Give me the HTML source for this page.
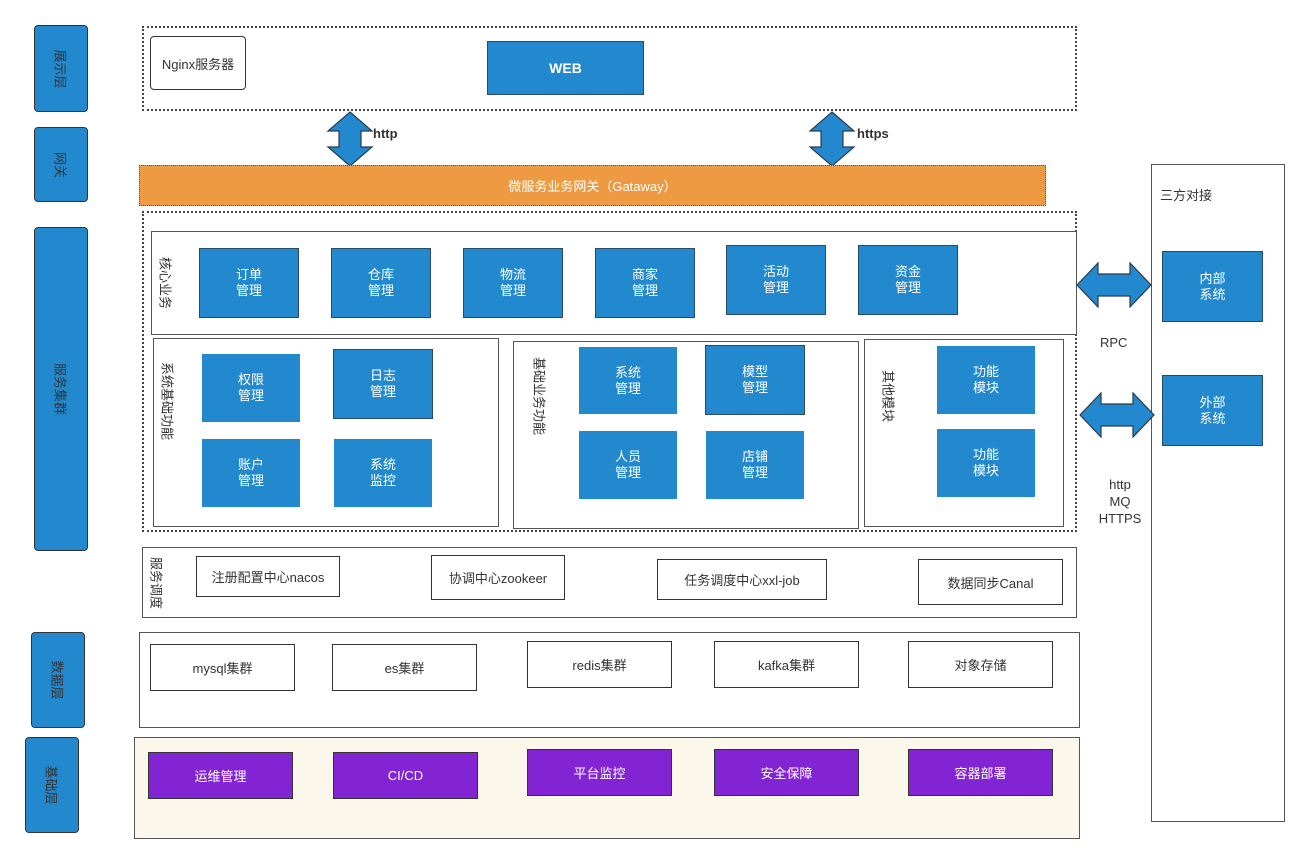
<!DOCTYPE html>
<html><head><meta charset="utf-8"><style>
body{margin:0;width:1309px;height:863px;background:#fff;position:relative;font-family:"Liberation Sans","Noto Sans CJK SC",sans-serif;overflow:hidden}
.a{position:absolute;box-sizing:border-box}
.lab{background:#2389ce;border:1.5px solid #333;border-radius:4px}
.vt{position:absolute;left:50%;top:50%;transform:translate(-50%,-50%) rotate(90deg);white-space:nowrap;font-size:13px;color:#333}
.b{background:#2389ce;border:1px solid #2b4a66;color:#fff;font-size:13px;display:flex;align-items:center;justify-content:center;text-align:center;line-height:16px}
.w{background:#fff;border:1.5px solid #333;color:#333;font-size:13px;display:flex;align-items:center;justify-content:center}
.p{background:#8224d3;border:1.5px solid #333;color:#fff;font-size:13px;display:flex;align-items:center;justify-content:center}
.frame{border:1.5px solid #555;background:#fff}
.dash{border:2px dotted #444}
</style></head><body>
<div class="a lab" style="left:34px;top:25px;width:54px;height:87px"><span class="vt">展示层</span></div>
<div class="a lab" style="left:34px;top:127px;width:54px;height:75px"><span class="vt">网关</span></div>
<div class="a lab" style="left:34px;top:227px;width:54px;height:324px"><span class="vt">服务集群</span></div>
<div class="a lab" style="left:31px;top:632px;width:54px;height:96px"><span class="vt">数据层</span></div>
<div class="a lab" style="left:25px;top:737px;width:54px;height:96px"><span class="vt">基础层</span></div>

<div class="a dash" style="left:142px;top:26px;width:935px;height:85px"></div>
<div class="a w" style="left:150px;top:36px;width:96px;height:54px;border-radius:4px">Nginx服务器</div>
<div class="a b" style="left:487px;top:41px;width:157px;height:54px;font-weight:bold;font-size:14px">WEB</div>

<svg class="a" style="left:326px;top:111px" width="48" height="56"><polygon points="24,1 46,20 35,20 35,36 46,36 24,55 2,36 13,36 13,20 2,20" fill="#2389ce" stroke="#2b3a4a" stroke-width="1.2"/></svg>
<div class="a" style="left:373px;top:126px;font-size:13px;font-weight:bold;color:#333">http</div>
<svg class="a" style="left:808px;top:111px" width="48" height="56"><polygon points="24,1 46,20 35,20 35,36 46,36 24,55 2,36 13,36 13,20 2,20" fill="#2389ce" stroke="#2b3a4a" stroke-width="1.2"/></svg>
<div class="a" style="left:857px;top:126px;font-size:13px;font-weight:bold;color:#333">https</div>

<div class="a" style="left:139px;top:165px;width:907px;height:41px;background:#ed9a43;border:1.5px dotted #555;color:#fff;font-size:13px;display:flex;align-items:center;justify-content:center">微服务业务网关（Gataway）</div>

<div class="a dash" style="left:142px;top:211px;width:935px;height:321px"></div>
<div class="a frame" style="left:151px;top:231px;width:926px;height:104px"><span class="vt" style="left:14px">核心业务</span></div>
<div class="a b" style="left:199px;top:248px;width:100px;height:70px">订单<br>管理</div>
<div class="a b" style="left:331px;top:248px;width:100px;height:70px">仓库<br>管理</div>
<div class="a b" style="left:463px;top:248px;width:100px;height:70px">物流<br>管理</div>
<div class="a b" style="left:595px;top:248px;width:100px;height:70px">商家<br>管理</div>
<div class="a b" style="left:726px;top:245px;width:100px;height:70px">活动<br>管理</div>
<div class="a b" style="left:858px;top:245px;width:100px;height:70px">资金<br>管理</div>

<div class="a frame" style="left:153px;top:338px;width:346px;height:189px"><span class="vt" style="left:14px;top:33%">系统基础功能</span></div>
<div class="a b" style="left:201px;top:353px;width:100px;height:70px;border-color:#fff">权限<br>管理</div>
<div class="a b" style="left:333px;top:349px;width:100px;height:70px">日志<br>管理</div>
<div class="a b" style="left:201px;top:438px;width:100px;height:70px;border-color:#fff">账户<br>管理</div>
<div class="a b" style="left:333px;top:438px;width:100px;height:70px;border-color:#fff">系统<br>监控</div>

<div class="a frame" style="left:513px;top:341px;width:346px;height:188px"><span class="vt" style="left:26px;top:29%">基础业务功能</span></div>
<div class="a b" style="left:578px;top:346px;width:100px;height:69px;border-color:#fff">系统<br>管理</div>
<div class="a b" style="left:705px;top:345px;width:100px;height:70px">模型<br>管理</div>
<div class="a b" style="left:578px;top:430px;width:100px;height:70px;border-color:#fff">人员<br>管理</div>
<div class="a b" style="left:705px;top:430px;width:100px;height:70px;border-color:#fff">店铺<br>管理</div>

<div class="a frame" style="left:864px;top:339px;width:200px;height:188px"><span class="vt" style="left:24px;top:30%">其他模块</span></div>
<div class="a b" style="left:936px;top:345px;width:100px;height:70px;border-color:#fff">功能<br>模块</div>
<div class="a b" style="left:936px;top:428px;width:100px;height:70px;border-color:#fff">功能<br>模块</div>

<div class="a frame" style="left:142px;top:547px;width:935px;height:71px"><span class="vt" style="left:14px">服务调度</span></div>
<div class="a w" style="left:196px;top:556px;width:144px;height:41px">注册配置中心nacos</div>
<div class="a w" style="left:431px;top:555px;width:134px;height:45px">协调中心zookeer</div>
<div class="a w" style="left:657px;top:559px;width:170px;height:41px">任务调度中心xxl-job</div>
<div class="a w" style="left:918px;top:559px;width:145px;height:46px">数据同步Canal</div>

<div class="a frame" style="left:139px;top:632px;width:941px;height:96px"></div>
<div class="a w" style="left:150px;top:644px;width:145px;height:47px">mysql集群</div>
<div class="a w" style="left:332px;top:644px;width:145px;height:47px">es集群</div>
<div class="a w" style="left:527px;top:641px;width:145px;height:47px">redis集群</div>
<div class="a w" style="left:714px;top:641px;width:145px;height:47px">kafka集群</div>
<div class="a w" style="left:908px;top:641px;width:145px;height:47px">对象存储</div>

<div class="a frame" style="left:134px;top:737px;width:946px;height:102px;background:#fbf7ea"></div>
<div class="a p" style="left:148px;top:752px;width:145px;height:47px">运维管理</div>
<div class="a p" style="left:333px;top:752px;width:145px;height:47px">CI/CD</div>
<div class="a p" style="left:527px;top:749px;width:145px;height:47px">平台监控</div>
<div class="a p" style="left:714px;top:749px;width:145px;height:47px">安全保障</div>
<div class="a p" style="left:908px;top:749px;width:145px;height:47px">容器部署</div>

<div class="a frame" style="left:1151px;top:164px;width:134px;height:658px"></div>
<div class="a" style="left:1160px;top:185px;font-size:13px;color:#333">三方对接</div>
<div class="a b" style="left:1162px;top:251px;width:101px;height:71px">内部<br>系统</div>
<div class="a b" style="left:1162px;top:375px;width:101px;height:71px">外部<br>系统</div>
<svg class="a" style="left:1076px;top:262px" width="77" height="46"><polygon points="1,23 22,1 22,12 54,12 54,1 75,23 54,45 54,34 22,34 22,45" fill="#2389ce" stroke="#2b3a4a" stroke-width="1.2"/></svg>
<svg class="a" style="left:1079px;top:392px" width="77" height="46"><polygon points="1,23 22,1 22,12 54,12 54,1 75,23 54,45 54,34 22,34 22,45" fill="#2389ce" stroke="#2b3a4a" stroke-width="1.2"/></svg>
<div class="a" style="left:1100px;top:335px;font-size:13px;color:#333">RPC</div>
<div class="a" style="left:1096px;top:476px;width:48px;text-align:center;font-size:13px;line-height:17px;color:#333">http<br>MQ<br>HTTPS</div>
</body></html>
